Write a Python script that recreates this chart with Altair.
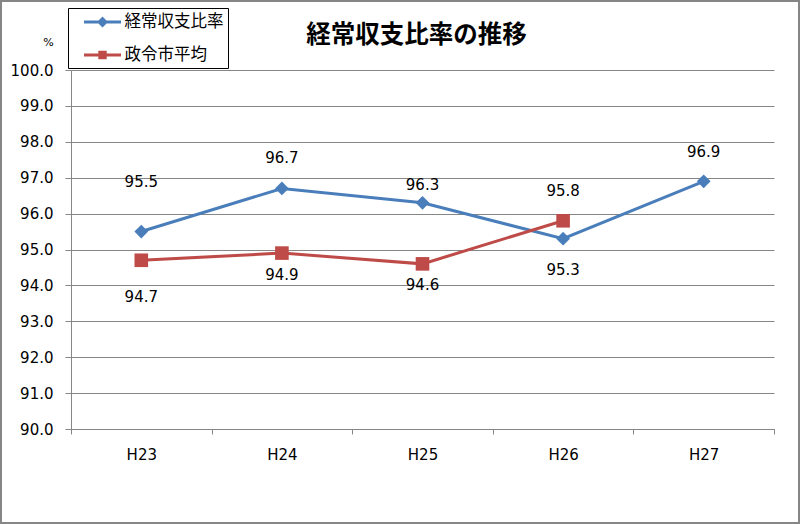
import altair as alt
import pandas as pd

years = ["H23", "H24", "H25", "H26", "H27"]
ratio = [95.5, 96.7, 96.3, 95.3, 96.9]
city_avg = [94.7, 94.9, 94.6, 95.8, None]
series_names = ["経常収支比率", "政令市平均"]
series_colors = ["#4a7ebb", "#be4b48"]
# label offsets (pixels) from each point, as placed in the original
ratio_label_dy = [-50, -30, -18, 31, -29]
avg_label_dy = [37, 22, 21, -30, 0]

rows = []
for i, yr in enumerate(years):
    rows.append({"year": yr, "series": series_names[0], "value": ratio[i], "dy": ratio_label_dy[i]})
    if city_avg[i] is not None:
        rows.append({"year": yr, "series": series_names[1], "value": city_avg[i], "dy": avg_label_dy[i]})
df = pd.DataFrame(rows)

GRAY = "#868686"
NUM_FONT = "DejaVu Sans"
JP_FONT = "Noto Sans CJK JP"

x_enc = alt.X("year:N", sort=years,
              scale=alt.Scale(type="band", paddingInner=0, paddingOuter=0),
              axis=alt.Axis(title=None, labelAngle=0, tickBand="extent", tickSize=5,
                            tickColor=GRAY, domainColor=GRAY, labelFont=NUM_FONT,
                            labelFontSize=15, labelColor="black", labelPadding=13, grid=False))
y_enc = alt.Y("value:Q",
              scale=alt.Scale(domain=[90, 100], nice=False, zero=False),
              axis=alt.Axis(values=list(range(90, 101)), format=".1f", title="%",
                            titleAngle=0, titleX=-23, titleY=-28, titleAlign="center",
                            titleBaseline="middle", titleFontSize=11, titleFontWeight="normal",
                            titleFont=NUM_FONT, titleColor="black",
                            labelFont=NUM_FONT, labelFontSize=15, labelColor="black",
                            labelPadding=12, tickSize=6, tickColor=GRAY,
                            domainColor=GRAY, gridColor=GRAY, grid=True))

line_path = "M-1.85,-0.15H1.85V0.15H-1.85Z"
diamond_sym = line_path + " M0,-0.55L0.55,0L0,0.55L-0.55,0Z"
square_sym = line_path + " M-0.42,-0.42H0.42V0.42H-0.42Z"

legend = alt.Legend(
    title=None, orient="none", legendX=-3, legendY=-62, direction="vertical",
    strokeColor="black", fillColor="white", padding=4,
    symbolSize=400, symbolOffset=20.5, labelOffset=12,
    labelFont=JP_FONT, labelFontSize=16.5, labelColor="black",
    rowPadding=14, symbolStrokeWidth=0, symbolOpacity=1,
)

base = alt.Chart(df)
layers = []
for name, col, shp, sz in zip(series_names, series_colors, ["diamond", "square"], [190, 185]):
    sub = base.transform_filter(alt.datum.series == name)
    layers.append(sub.mark_line(strokeWidth=3, color=col).encode(x=x_enc, y=y_enc))
    layers.append(sub.mark_point(filled=True, opacity=1, size=sz, shape=shp, color=col)
                  .encode(x=x_enc, y=y_enc))

legend_layer = base.transform_filter("false").mark_point(filled=True, opacity=1, size=400).encode(
    x=x_enc, y=y_enc,
    color=alt.Color("series:N", scale=alt.Scale(domain=series_names, range=series_colors), legend=legend),
    shape=alt.Shape("series:N", scale=alt.Scale(domain=series_names, range=[diamond_sym, square_sym]),
                    legend=legend),
)

labels = base.mark_text(font=NUM_FONT, fontSize=15, color="black", baseline="middle",
                        dy=alt.ExprRef(expr="datum.dy")).encode(
    x=x_enc, y=y_enc,
    text=alt.Text("value:Q", format=".1f"),
)

frame = alt.Chart(pd.DataFrame({"k": [0]})).mark_rect(filled=False, stroke=GRAY, strokeWidth=2).encode(
    x=alt.value(-70), x2=alt.value(728), y=alt.value(-69), y2=alt.value(453),
)

chart = alt.layer(frame, *layers, labels, legend_layer).properties(
    width=703, height=359,
    autosize=alt.AutoSizeParams(type="none"),
    padding={"left": 71, "top": 70, "right": 26, "bottom": 95},
    background="white",
    title=alt.TitleParams(text="経常収支比率の推移", font=JP_FONT, fontSize=24.5,
                          fontWeight="bold", color="black", anchor="middle",
                          frame="group", offset=-48, dx=-6),
).configure_view(stroke=None)

chart.save("out.html", embed_options={"renderer": "svg", "actions": False})
